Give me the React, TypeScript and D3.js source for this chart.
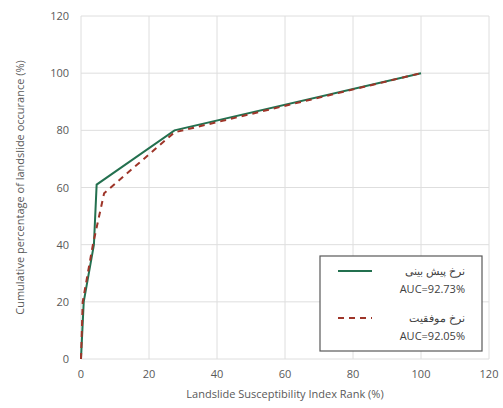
import * as d3 from "d3";
import React from "react";

const xTicks = [0, 20, 40, 60, 80, 100, 120];
const yTicks = [0, 20, 40, 60, 80, 100, 120];

const predRank = [0, 0.8, 3.8, 4.6, 27.5, 100];
const predOcc = [0, 20, 40, 61, 80, 100];

const successRank = [0, 0.5, 3.5, 6.8, 27.5, 100];
const successOcc = [0, 20, 40, 58, 79.3, 100];

const seriesNames = ["نرخ پیش بینی", "نرخ موفقیت"];
const aucLabels = ["AUC=92.73%", "AUC=92.05%"];

const xTitle = "Landslide Susceptibility Index Rank (%)";
const yTitle = "Cumulative percentage of landslide occurance (%)";

const W = 503;
const H = 408;
const margin = { left: 81, right: 14, top: 16, bottom: 49 };

const App = () => {
  const x = d3.scaleLinear().domain([0, 120]).range([margin.left, W - margin.right]);
  const y = d3.scaleLinear().domain([0, 120]).range([H - margin.bottom, margin.top]);

  const line = d3
    .line<[number, number]>()
    .x((d) => x(d[0]))
    .y((d) => y(d[1]));

  const pred = predRank.map((r, i) => [r, predOcc[i]] as [number, number]);
  const succ = successRank.map((r, i) => [r, successOcc[i]] as [number, number]);

  const font = "'Open Sans', 'Liberation Sans', sans-serif";
  const green = "#23704f";
  const red = "#9e3529";

  return (
    <svg width={W} height={H} style={{ position: "absolute", left: 0, top: 0 }} fontFamily={font}>
      <rect width={W} height={H} fill="white" />
      {xTicks.map((t) => (
        <line key={"gx" + t} x1={x(t)} x2={x(t)} y1={y(0)} y2={y(120)} stroke="#dedede" />
      ))}
      {yTicks.map((t) => (
        <line key={"gy" + t} x1={x(0)} x2={x(120)} y1={y(t)} y2={y(t)} stroke="#dedede" />
      ))}
      {xTicks.map((t) => (
        <text key={"tx" + t} x={x(t)} y={y(0) + 19} fontSize={11} fill="#595959" textAnchor="middle">
          {t}
        </text>
      ))}
      {yTicks.map((t) => (
        <text key={"ty" + t} x={x(0) - 12} y={y(t) + 4} fontSize={11} fill="#595959" textAnchor="end">
          {t}
        </text>
      ))}
      <text x={(x(0) + x(120)) / 2} y={H - 10} fontSize={11} fill="#595959" textAnchor="middle">
        {xTitle}
      </text>
      <text
        transform={`translate(24,${(y(0) + y(120)) / 2}) rotate(-90)`}
        fontSize={11}
        fill="#595959"
        textAnchor="middle"
      >
        {yTitle}
      </text>

      <path d={line(pred) ?? ""} fill="none" stroke={green} strokeWidth={2} />
      <path d={line(succ) ?? ""} fill="none" stroke={red} strokeWidth={2} strokeDasharray="6,5" />

      <g>
        <rect x={320} y={256} width={162} height={95} fill="white" stroke="#595959" strokeWidth={1.2} />
        <line x1={338} x2={372} y1={271} y2={271} stroke={green} strokeWidth={2} />
        <text x={465} y={275} fontSize={11} fill="#404040" textAnchor="end">
          {seriesNames[0]}
        </text>
        <text x={465} y={293} fontSize={11} fill="#404040" textAnchor="end">
          {aucLabels[0]}
        </text>
        <line x1={338} x2={372} y1={318} y2={318} stroke={red} strokeWidth={2} strokeDasharray="6,5" />
        <text x={465} y={322} fontSize={11} fill="#404040" textAnchor="end">
          {seriesNames[1]}
        </text>
        <text x={465} y={340} fontSize={11} fill="#404040" textAnchor="end">
          {aucLabels[1]}
        </text>
      </g>
    </svg>
  );
};

export default App;
